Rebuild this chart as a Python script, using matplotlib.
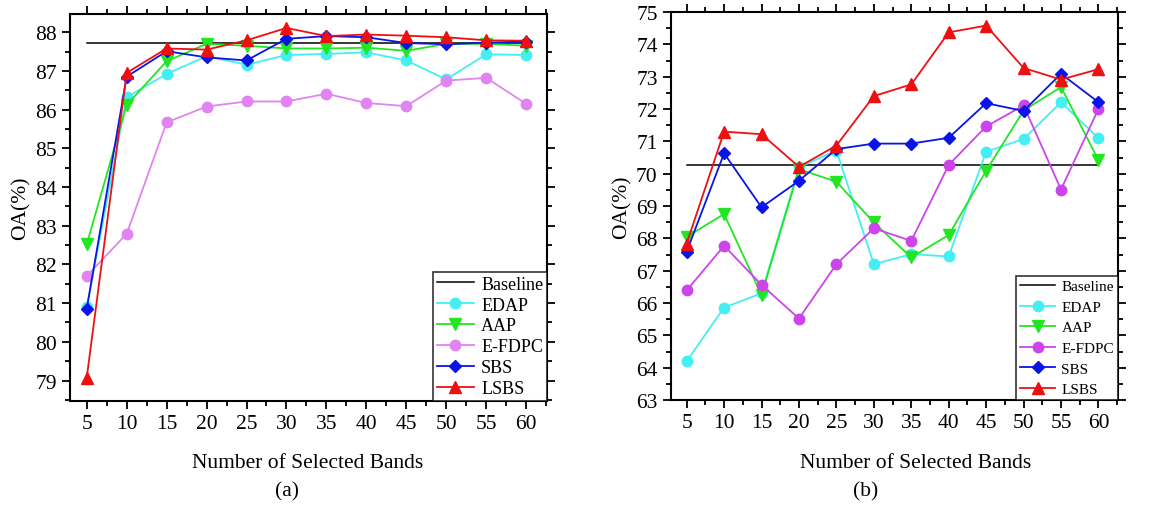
import matplotlib
matplotlib.use('Agg')
import matplotlib.pyplot as plt
from matplotlib.ticker import MultipleLocator

plt.rcParams['font.family'] = ['Liberation Serif', 'DejaVu Serif']
plt.rcParams['mathtext.fontset'] = 'stix'

bands = [5, 10, 15, 20, 25, 30, 35, 40, 45, 50, 55, 60]

# (a)
baseline_a = 87.71
edap_a = [80.90, 86.32, 86.92, 87.38, 87.16, 87.41, 87.44, 87.48, 87.27, 86.78, 87.43, 87.41]
aap_a = [82.52, 86.12, 87.25, 87.70, 87.65, 87.58, 87.58, 87.60, 87.52, 87.70, 87.70, 87.65]
efdpc_a = [81.70, 82.79, 85.67, 86.08, 86.21, 86.21, 86.41, 86.17, 86.09, 86.75, 86.82, 86.15]
sbs_a = [80.85, 86.85, 87.51, 87.35, 87.27, 87.83, 87.90, 87.87, 87.72, 87.69, 87.73, 87.76]
lsbs_a = [79.07, 86.95, 87.58, 87.55, 87.79, 88.11, 87.90, 87.94, 87.91, 87.87, 87.79, 87.78]

# (b)
baseline_b = 70.26
edap_b = [64.20, 65.86, 66.30, 70.20, 70.71, 67.20, 67.51, 67.44, 70.68, 71.07, 72.21, 71.10]
aap_b = [68.05, 68.75, 66.25, 70.14, 69.75, 68.49, 67.41, 68.10, 70.09, 71.95, 72.68, 70.42]
efdpc_b = [66.39, 67.77, 66.56, 65.52, 67.20, 68.31, 67.92, 70.27, 71.46, 72.11, 69.51, 72.00]
sbs_b = [67.59, 70.63, 68.96, 69.78, 70.76, 70.93, 70.93, 71.11, 72.18, 71.94, 73.09, 72.21]
lsbs_b = [67.84, 71.30, 71.22, 70.21, 70.87, 72.40, 72.76, 74.37, 74.58, 73.27, 72.91, 73.23]

C_EDAP = '#45EEF2'
C_AAP = '#22E622'
C_BLUE = '#0A14E6'
C_RED = '#EE1010'


def draw_panel(ax, base, edap, aap, efdpc, sbs, lsbs, violet, ylim, leg_kw):
    ax.plot([bands[0], bands[-1]], [base, base], color='black', lw=1.1, label='Baseline')
    ax.plot(bands, edap, color=C_EDAP, lw=1.3, marker='o', ms=7.5, label='EDAP')
    ax.plot(bands, aap, color=C_AAP, lw=1.3, marker='v', ms=9, label='AAP')
    ax.plot(bands, efdpc, color=violet, lw=1.3, marker='o', ms=7.5, label='E-FDPC')
    ax.plot(bands, sbs, color=C_BLUE, lw=1.3, marker='D', ms=6.5, label='SBS')
    ax.plot(bands, lsbs, color=C_RED, lw=1.3, marker='^', ms=9, label='LSBS')

    ax.set_xlim(2.9, 62.6)
    ax.set_ylim(*ylim)
    ax.set_xticks(bands)
    ax.xaxis.set_minor_locator(MultipleLocator(2.5))
    ax.yaxis.set_major_locator(MultipleLocator(1))
    ax.yaxis.set_minor_locator(MultipleLocator(0.5))
    ax.tick_params(which='both', direction='out', top=True, right=True,
                   labeltop=False, labelright=False, width=1.3, labelsize=15.5)
    ax.tick_params(which='major', length=6)
    ax.tick_params(which='minor', length=3.5)
    for sp in ax.spines.values():
        sp.set_linewidth(1.5)
    ax.set_ylabel('OA(%)', fontsize=15.5, labelpad=3)

    leg = ax.legend(loc='lower right', frameon=True, fancybox=False,
                    edgecolor='black', borderaxespad=0, **leg_kw)
    leg.get_frame().set_linewidth(1.2)


fig = plt.figure(figsize=(11.6, 5.06), dpi=100)
ax1 = fig.add_axes([0.0603, 0.2055, 0.4112, 0.7648])
ax2 = fig.add_axes([0.5784, 0.2075, 0.3853, 0.7668])

draw_panel(ax1, baseline_a, edap_a, aap_a, efdpc_a, sbs_a, lsbs_a, '#E283F2', (78.47, 88.47),
           dict(fontsize=13, handlelength=2.05, handletextpad=0.4, labelspacing=0.22, borderpad=0.2))
draw_panel(ax2, baseline_b, edap_b, aap_b, efdpc_b, sbs_b, lsbs_b, '#CC44EA', (63, 75),
           dict(fontsize=11, handlelength=2.3, handletextpad=0.4, labelspacing=0.45, borderpad=0.25))

fig.text(308 / 1160, 1 - 463 / 506, 'Number of Selected Bands', ha='center', va='center', fontsize=15.5)
fig.text(287 / 1160, 1 - 492 / 506, '(a)', ha='center', va='center', fontsize=15.5)
fig.text(916 / 1160, 1 - 463 / 506, 'Number of Selected Bands', ha='center', va='center', fontsize=15.5)
fig.text(866 / 1160, 1 - 492 / 506, '(b)', ha='center', va='center', fontsize=15.5)

fig.savefig('out.png', dpi=100)
